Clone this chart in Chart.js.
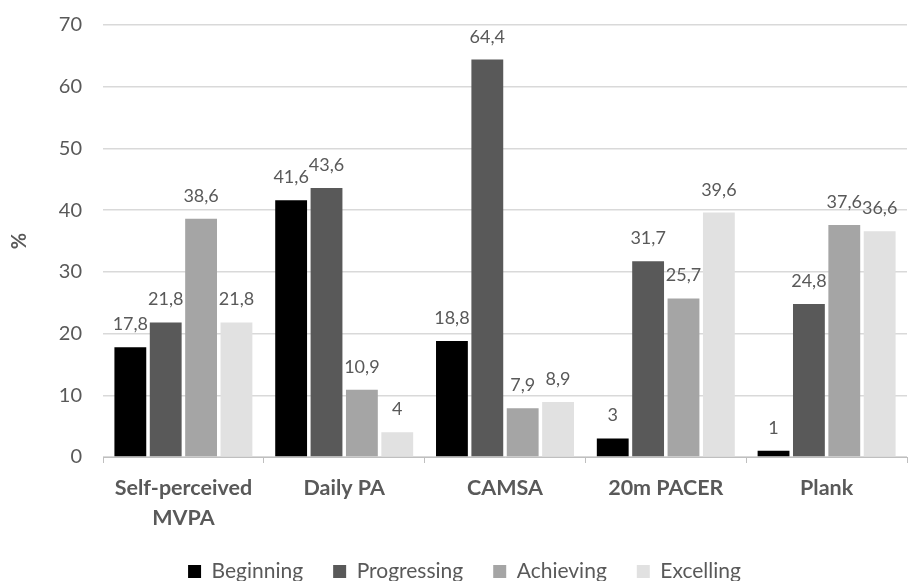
<!DOCTYPE html>
<html>
<head>
<meta charset="utf-8">
<script src="https://cdn.jsdelivr.net/npm/chart.js@4"></script>
<style>
  html, body { margin: 0; padding: 0; background: #ffffff; }
  #wrap { width: 912px; height: 581px; position: relative; }
</style>
</head>
<body>
<div id="wrap"><canvas id="c" width="912" height="581"></canvas></div>
<script>
const categories = [["Self-perceived", "MVPA"], "Daily PA", "CAMSA", "20m PACER", "Plank"];
const seriesNames = ["Beginning", "Progressing", "Achieving", "Excelling"];
const beginning   = [17.8, 41.6, 18.8, 3, 1];
const progressing = [21.8, 43.6, 64.4, 31.7, 24.8];
const achieving   = [38.6, 10.9, 7.9, 25.7, 37.6];
const excelling   = [21.8, 4, 8.9, 39.6, 36.6];
const yTicks = [0, 10, 20, 30, 40, 50, 60, 70];
const colors = ["#000000", "#595959", "#a5a5a5", "#e1e1e1"];

const FONT = "Lato, 'Open Sans', sans-serif";
const TEXT = "#595959";

const labelPlugin = {
  id: "valueLabels",
  afterDatasetsDraw(chart) {
    const ctx = chart.ctx;
    ctx.save();
    ctx.font = "18px " + FONT;
    ctx.fillStyle = TEXT;
    ctx.textAlign = "center";
    ctx.textBaseline = "alphabetic";
    chart.data.datasets.forEach((ds, i) => {
      const meta = chart.getDatasetMeta(i);
      meta.data.forEach((bar, j) => {
        const v = ds.data[j];
        const txt = String(v).replace(".", ",");
        ctx.fillText(txt, bar.x, bar.y - 17);
      });
    });
    ctx.restore();
  }
};

const allSeries = [beginning, progressing, achieving, excelling];

new Chart(document.getElementById("c"), {
  type: "bar",
  data: {
    labels: categories,
    datasets: allSeries.map((d, i) => ({
      label: seriesNames[i],
      data: d,
      backgroundColor: colors[i],
      borderWidth: 0,
      categoryPercentage: 0.88,
      barPercentage: 0.9
    }))
  },
  options: {
    responsive: false,
    animation: false,
    devicePixelRatio: 1,
    layout: { padding: { top: 25, right: 5, left: 22, bottom: 0 } },
    plugins: {
      tooltip: { enabled: false },
      legend: {
        position: "bottom",
        maxHeight: 50,
        labels: {
          font: { family: FONT, size: 21 },
          color: TEXT,
          boxWidth: 13,
          boxHeight: 13,
          padding: 30
        }
      }
    },
    scales: {
      x: {
        grid: {
          offset: true,
          drawOnChartArea: false,
          drawTicks: true,
          tickLength: 6,
          color: "#bfbfbf"
        },
        border: { display: true, color: "#bfbfbf", width: 1 },
        ticks: {
          font: { family: FONT, size: 21.5, weight: "bold", lineHeight: 1.4 },
          color: TEXT,
          padding: 10,
          maxRotation: 0,
          autoSkip: false
        },
        afterFit(scale) { scale.height = 74; }
      },
      y: {
        min: 0,
        max: 70,
        afterBuildTicks(scale) { scale.ticks = yTicks.map(v => ({ value: v })); },
        grid: { color: "#d9d9d9", lineWidth: 1.5, drawTicks: false },
        border: { display: false },
        ticks: {
          font: { family: FONT, size: 20 },
          color: TEXT,
          padding: 21
        },
        title: {
          display: true,
          text: "%",
          font: { family: FONT, size: 20, weight: "bold" },
          color: TEXT,
          padding: { top: -14, bottom: 0 }
        },
        afterFit(scale) {
          scale.width = 81;
          scale.paddingTop = 0;
          scale.paddingBottom = 0;
        }
      }
    }
  },
  plugins: [labelPlugin]
});
</script>
</body>
</html>
